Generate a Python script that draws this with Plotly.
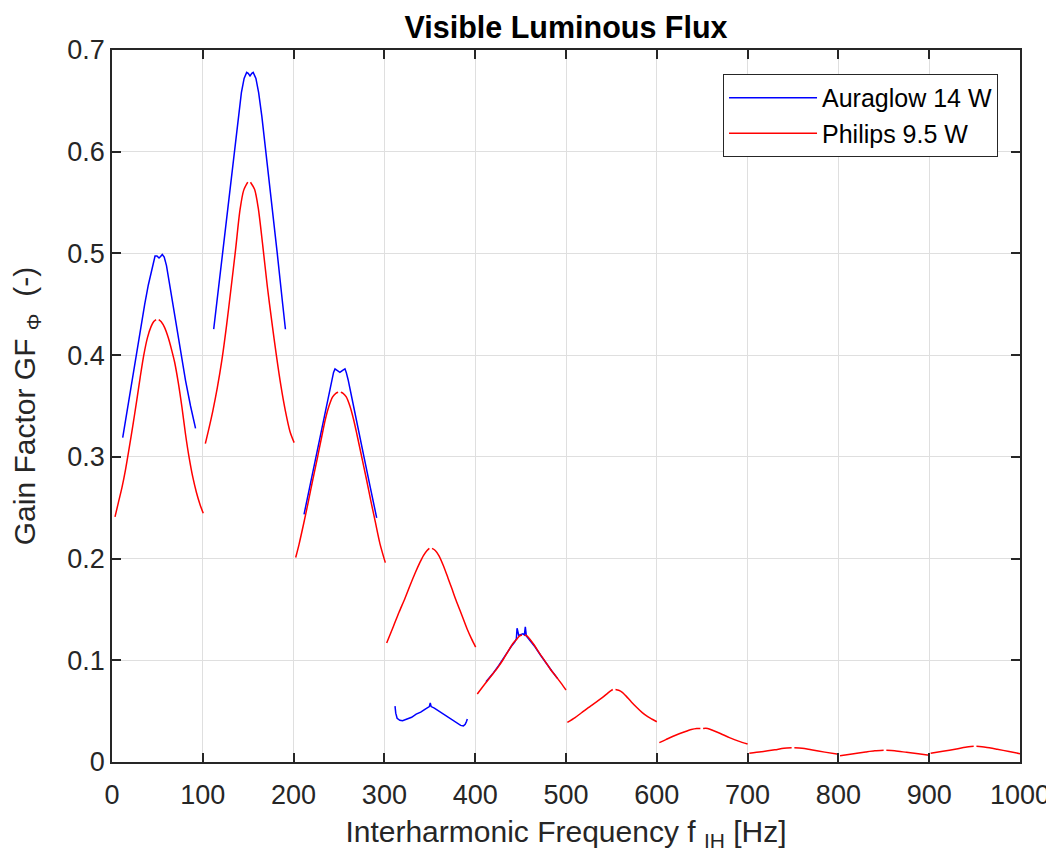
import plotly.graph_objects as go

# ---- data ----
# Auraglow 14 W : segments separated by None
aura_freq = [
    11.8, 16, 21, 26.4, 31, 36, 40, 43, 45.5, 47.4, 49.5, 51.8, 53.5, 55.4, 57.5, 60, 63, 67, 71.5, 76, 81, 86.5, 92, None,
    112, 115.2, 121.7, 128.6, 134.6, 139, 142.5, 145.5, 148.3, 150, 152, 154, 155.5, 158.5, 161.5, 165, 169.6, 175.3, 182, 188, 191, None,
    211.5, 218, 224.4, 230, 236, 241.8, 244, 245.6, 248, 251, 254, 256.6, 258, 260.1, 266, 271.5, 277.5, 284, 291.5, None,
    311.7, 312.5, 314, 317, 320, 325, 330, 335, 340, 345, 349.5, 350.5, 351.5, 355, 360, 365, 370, 375, 380, 384, 387, 389, 390.5, 391.3, None,
    411.9, 416, 420, 426, 431, 436, 440, 443.5, 445.3, 446.1, 447, 448, 450.5, 452.5, 454.2, 455.2, 456.3, 458, 461, 466, 472, 478, 484, 490.8,
]
aura_gain = [
    0.319, 0.342, 0.370, 0.400, 0.425, 0.450, 0.469, 0.482, 0.492, 0.4975, 0.4975, 0.4955, 0.497, 0.499, 0.4965, 0.488, 0.472, 0.450, 0.425, 0.400, 0.375, 0.350, 0.328, None,
    0.4255, 0.450, 0.500, 0.553, 0.600, 0.635, 0.658, 0.672, 0.678, 0.677, 0.6745, 0.677, 0.678, 0.672, 0.658, 0.635, 0.600, 0.553, 0.500, 0.450, 0.4255, None,
    0.2435, 0.272, 0.300, 0.325, 0.350, 0.3756, 0.383, 0.3865, 0.385, 0.383, 0.385, 0.3865, 0.383, 0.3756, 0.350, 0.325, 0.300, 0.272, 0.240, None,
    0.055, 0.048, 0.043, 0.041, 0.0405, 0.042, 0.044, 0.047, 0.049, 0.052, 0.0545, 0.058, 0.0545, 0.053, 0.050, 0.047, 0.044, 0.041, 0.038, 0.036, 0.0355, 0.037, 0.040, 0.0423, None,
    0.079, 0.083, 0.0875, 0.095, 0.102, 0.109, 0.114, 0.118, 0.121, 0.1315, 0.128, 0.1245, 0.1255, 0.126, 0.125, 0.133, 0.124, 0.122, 0.1195, 0.113, 0.105, 0.097, 0.090, 0.082,
]

# Philips 9.5 W : segments separated by None (small gap at each peak)
philips_freq = [
    3.3, 7, 11, 15, 19, 23, 27, 31, 35, 39, 43, 46, 48.5, None, 51.5, 54, 58, 62, 66, 69, 73, 77, 81, 85, 89, 93, 97, 100.5, None,
    102.8, 106, 111, 116, 121, 126, 131, 136, 141, 145, 149.5, None, 152.5, 157, 161, 166, 171, 176, 181, 186, 191, 196, 200.6, None,
    202.3, 206, 211, 216, 221, 226, 231, 235, 239, 243, 246.5, 249, None, 252, 254.5, 258, 262, 266, 270, 275, 280, 285, 290, 295, 301, None,
    302.5, 310, 316, 322.7, 328, 334, 339, 343, 347, 349.5, None, 352.5, 356, 360, 365, 370, 374.5, 378.9, 385, 391, 396, 400.5, None,
    402.3, 410, 418, 425, 431, 437, 442, 446, 449, 451.5, None, 454.5, 457, 460, 465, 470, 477, 483, 490, 495, 500, None,
    501.5, 510, 518, 527, 535, 541, 546, 550, 551.5, None, 554.5, 558, 562, 566, 572, 578, 584, 590, 595, 600, None,
    602.8, 610, 620, 630, 638, 644, 648, None, 651, 656, 662, 670, 680, 690, 700, None,
    701.9, 715, 730, 740, 748.5, None, 751.5, 760, 770, 785, 800, None,
    801.8, 815, 830, 840, 849.8, None, 852.8, 862, 875, 888, 900, None,
    901.6, 915, 930, 940, 949, None, 952, 962, 975, 988, 1000,
]
philips_gain = [
    0.241, 0.255, 0.270, 0.288, 0.309, 0.331, 0.354, 0.378, 0.400, 0.417, 0.428, 0.433, 0.435, None, 0.435, 0.433, 0.427, 0.417, 0.404, 0.393, 0.373, 0.349, 0.322, 0.299, 0.280, 0.265, 0.253, 0.2445, None,
    0.313, 0.325, 0.345, 0.368, 0.395, 0.428, 0.465, 0.503, 0.543, 0.562, 0.570, None, 0.570, 0.563, 0.545, 0.508, 0.468, 0.433, 0.400, 0.370, 0.345, 0.325, 0.314, None,
    0.201, 0.214, 0.234, 0.255, 0.277, 0.298, 0.320, 0.337, 0.350, 0.359, 0.3625, 0.3635, None, 0.3635, 0.3625, 0.359, 0.350, 0.337, 0.321, 0.300, 0.279, 0.257, 0.236, 0.215, 0.196, None,
    0.117, 0.1335, 0.147, 0.161, 0.173, 0.186, 0.196, 0.203, 0.208, 0.210, None, 0.210, 0.208, 0.203, 0.193, 0.181, 0.170, 0.159, 0.145, 0.131, 0.121, 0.113, None,
    0.0669, 0.076, 0.085, 0.093, 0.101, 0.110, 0.117, 0.121, 0.124, 0.1249, None, 0.1249, 0.124, 0.121, 0.115, 0.108, 0.099, 0.091, 0.083, 0.077, 0.0708, None,
    0.039, 0.0437, 0.049, 0.055, 0.060, 0.064, 0.0678, 0.0705, 0.0713, None, 0.0713, 0.0705, 0.0685, 0.065, 0.059, 0.0535, 0.0485, 0.0445, 0.042, 0.0396, None,
    0.019, 0.022, 0.026, 0.0295, 0.032, 0.033, 0.033, None, 0.033, 0.033, 0.031, 0.028, 0.024, 0.0205, 0.0177, None,
    0.0085, 0.010, 0.012, 0.0135, 0.014, None, 0.014, 0.0135, 0.012, 0.0097, 0.0076, None,
    0.0062, 0.0078, 0.0098, 0.011, 0.0115, None, 0.0115, 0.011, 0.0095, 0.008, 0.0066, None,
    0.0085, 0.0105, 0.0128, 0.0145, 0.0154, None, 0.0154, 0.0145, 0.0125, 0.0103, 0.0082,
]

x_ticks = [0, 100, 200, 300, 400, 500, 600, 700, 800, 900, 1000]
y_ticks = [0, 0.1, 0.2, 0.3, 0.4, 0.5, 0.6, 0.7]
y_tick_text = ["0", "0.1", "0.2", "0.3", "0.4", "0.5", "0.6", "0.7"]

FONT = "Liberation Sans, Arial, Helvetica, sans-serif"
AX = "#262626"
GRID = "#dfdfdf"

fig = go.Figure()
fig.add_trace(go.Scatter(x=aura_freq, y=aura_gain, mode="lines", name="Auraglow 14 W",
                         line=dict(color="#0000ff", width=1.5), connectgaps=False))
fig.add_trace(go.Scatter(x=philips_freq, y=philips_gain, mode="lines", name="Philips 9.5 W",
                         line=dict(color="#ff0000", width=1.5, shape="spline", smoothing=0.8),
                         connectgaps=False))

axis_common = dict(
    showline=True, linecolor=AX, linewidth=1.5, mirror="ticks",
    ticks="inside", ticklen=9, tickwidth=1.5, tickcolor=AX,
    showgrid=True, gridcolor=GRID, gridwidth=1, zeroline=False,
    tickfont=dict(family=FONT, size=27, color=AX), automargin=False,
)

# page body has an 8px margin, so the figure is sized to fit the window
fig.update_layout(
    width=1046, height=847,
    paper_bgcolor="white", plot_bgcolor="white",
    margin=dict(l=104, r=34, t=42, b=93),
    title=dict(text="<b>Visible Luminous Flux</b>", x=0.5, xref="paper", xanchor="center",
               y=1 - 19 / 847, yanchor="middle", yref="container",
               font=dict(family=FONT, size=30.5, color="black")),
    xaxis=dict(range=[0, 1000], tickvals=x_ticks, ticklabelstandoff=8,
               title=dict(text="Interharmonic Frequency f <sub>IH</sub> [Hz]", standoff=12,
                          font=dict(family=FONT, size=30, color=AX)),
               **axis_common),
    yaxis=dict(range=[0, 0.7], tickvals=y_ticks, ticktext=y_tick_text, ticklabelstandoff=0,
               title=dict(text="Gain Factor GF <sub>Φ</sub>  (-)", standoff=24,
                          font=dict(family=FONT, size=30, color=AX)),
               **axis_common),
    legend=dict(x=0.9758, xanchor="right", y=0.9663, yanchor="top",
                bgcolor="white", bordercolor=AX, borderwidth=1,
                font=dict(family=FONT, size=25, color="black"),
                itemwidth=88, tracegroupgap=0),
    showlegend=True,
)

fig.write_html("out.html")
